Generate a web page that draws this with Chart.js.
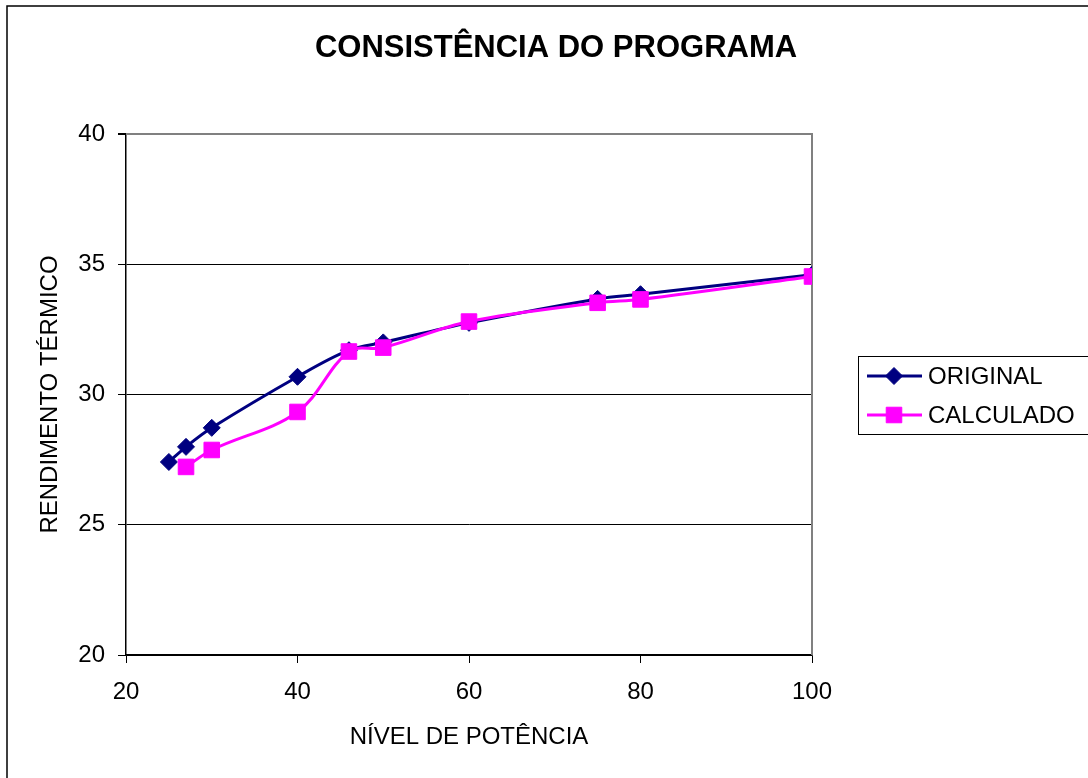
<!DOCTYPE html>
<html>
<head>
<meta charset="utf-8">
<title>Consistência do programa</title>
<script src="https://cdn.jsdelivr.net/npm/chart.js@4.4.1/dist/chart.umd.min.js"></script>
<style>
  html, body { margin: 0; padding: 0; background: #fff; }
  #wrap { width: 1088px; height: 778px; position: relative; }
</style>
</head>
<body>
<div id="wrap"><canvas id="chart" width="1088" height="778"></canvas></div>
<script>
// ==================== DATA ====================
const nivelOriginal = [25, 27, 30, 40, 46, 50, 60, 75, 80, 100];
const rendOriginal = [27.41, 27.99, 28.72, 30.68, 31.7, 32.0, 32.75, 33.67, 33.85, 34.6];

const nivelCalculado = [27, 30, 40, 46, 50, 60, 75, 80, 100];
const rendCalculado = [27.22, 27.87, 29.33, 31.65, 31.8, 32.8, 33.52, 33.65, 34.53];

const xTicks = [20, 40, 60, 80, 100];
const yTicks = [20, 25, 30, 35, 40];

const titleText = 'CONSISTÊNCIA DO PROGRAMA';
const xTitle = 'NÍVEL DE POTÊNCIA';
const yTitle = 'RENDIMENTO TÉRMICO';
const seriesNames = ['ORIGINAL', 'CALCULADO'];

const FONT = '"Liberation Sans", Arial, Helvetica, sans-serif';
const NAVY = '#000080';
const MAGENTA = '#FF00FF';

function toPoints(xs, ys) {
  return xs.map((x, i) => ({ x: x, y: ys[i] }));
}

// frame, title, axis titles and legend drawn around the chart area
const decorPlugin = {
  id: 'decor',
  beforeDatasetsDraw(chart) {
    const { ctx, chartArea: a } = chart;
    ctx.save();
    ctx.strokeStyle = '#808080';
    ctx.lineWidth = 2;
    ctx.beginPath();
    ctx.moveTo(a.left, a.top);
    ctx.lineTo(a.right, a.top);
    ctx.lineTo(a.right, a.bottom);
    ctx.stroke();
    ctx.restore();
  },
  afterDraw(chart) {
    const ctx = chart.ctx;
    const a = chart.chartArea;
    ctx.save();

    // outer frame (right/bottom fall outside the picture)
    ctx.strokeStyle = '#000';
    ctx.lineWidth = 1.5;
    ctx.strokeRect(7, 6, 1200, 900);

    // title
    ctx.fillStyle = '#000';
    ctx.font = 'bold 31px ' + FONT;
    ctx.textAlign = 'center';
    ctx.textBaseline = 'middle';
    ctx.fillText(titleText, 556, 48);

    // axis titles
    ctx.font = '24px ' + FONT;
    ctx.fillText(xTitle, (a.left + a.right) / 2, 737);
    ctx.save();
    ctx.translate(50, (a.top + a.bottom) / 2);
    ctx.rotate(-Math.PI / 2);
    ctx.fillText(yTitle, 0, 0);
    ctx.restore();

    // legend
    ctx.strokeStyle = '#000';
    ctx.lineWidth = 1;
    ctx.strokeRect(858.5, 356.5, 260, 78);
    const rows = [
      { name: seriesNames[0], color: NAVY, style: 'rectRot', r: 8.5, y: 376 },
      { name: seriesNames[1], color: MAGENTA, style: 'rect', r: 11, y: 415 }
    ];
    rows.forEach(row => {
      ctx.strokeStyle = row.color;
      ctx.lineWidth = 3;
      ctx.beginPath();
      ctx.moveTo(867, row.y);
      ctx.lineTo(922, row.y);
      ctx.stroke();
      ctx.fillStyle = row.color;
      ctx.strokeStyle = row.color;
      ctx.lineWidth = 1;
      Chart.helpers.drawPoint(ctx, { pointStyle: row.style, radius: row.r, borderWidth: 1 }, 894, row.y);
      ctx.fillStyle = '#000';
      ctx.font = '24px ' + FONT;
      ctx.textAlign = 'left';
      ctx.textBaseline = 'middle';
      ctx.fillText(row.name, 928, row.y + 1);
    });
    ctx.restore();
  }
};

const ctx = document.getElementById('chart').getContext('2d');
new Chart(ctx, {
  type: 'line',
  data: {
    datasets: [
      {
        label: seriesNames[0],
        data: toPoints(nivelOriginal, rendOriginal),
        borderColor: NAVY,
        backgroundColor: NAVY,
        borderWidth: 3,
        pointStyle: 'rectRot',
        pointRadius: 8.5,
        pointBorderWidth: 1,
        tension: 0.35,
        order: 2
      },
      {
        label: seriesNames[1],
        data: toPoints(nivelCalculado, rendCalculado),
        borderColor: MAGENTA,
        backgroundColor: MAGENTA,
        borderWidth: 3,
        pointStyle: 'rect',
        pointRadius: 11,
        pointBorderWidth: 1,
        tension: 0.35,
        order: 1
      }
    ]
  },
  options: {
    responsive: false,
    animation: false,
    events: [],
    layout: { padding: { left: 0, top: 134, right: 276, bottom: 0 } },
    plugins: {
      legend: { display: false },
      title: { display: false },
      tooltip: { enabled: false }
    },
    scales: {
      x: {
        type: 'linear',
        min: 20,
        max: 100,
        afterFit: s => { s.height = 123; },
        afterBuildTicks: s => { s.ticks = xTicks.map(v => ({ value: v })); },
        border: { display: true, color: '#000', width: 1.5 },
        grid: { drawOnChartArea: false, drawTicks: true, tickLength: 8, tickColor: '#000', lineWidth: 1 },
        ticks: { color: '#000', padding: 15, maxRotation: 0, font: { family: FONT, size: 24 } }
      },
      y: {
        min: 20,
        max: 40,
        afterFit: s => { s.width = 126; },
        afterBuildTicks: s => { s.ticks = yTicks.map(v => ({ value: v })); },
        border: { display: true, color: '#000', width: 1.5 },
        grid: {
          color: c => (c.tick && c.tick.value === 40 ? '#808080' : '#000'),
          lineWidth: c => (c.tick && c.tick.value === 40 ? 2 : 1),
          tickLength: 8,
          tickColor: '#000'
        },
        ticks: { color: '#000', padding: 13, font: { family: FONT, size: 24 } }
      }
    }
  },
  plugins: [decorPlugin]
});
</script>
</body>
</html>
